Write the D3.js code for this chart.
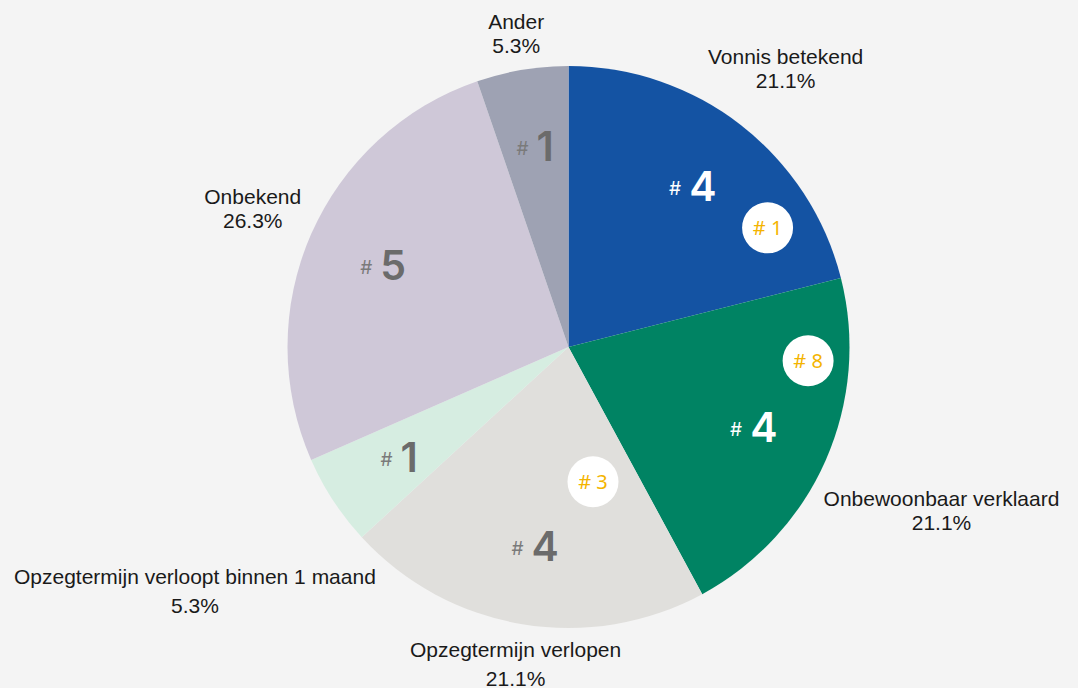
<!DOCTYPE html>
<html>
<head>
<meta charset="utf-8">
<style>
  html, body { margin: 0; padding: 0; background: #f4f4f4; }
  svg { display: block; }
</style>
</head>
<body>
<svg width="1078" height="688"></svg>
<script src="https://d3js.org/d3.v7.min.js"></script>
<script>

var categories = [
  "Vonnis betekend",
  "Onbewoonbaar verklaard",
  "Opzegtermijn verlopen",
  "Opzegtermijn verloopt binnen 1 maand",
  "Onbekend",
  "Ander"
];
var counts = [4, 4, 4, 1, 5, 1];
var colors = ["#1453a3", "#008363", "#e0dfdc", "#d6ede1", "#cfc8d8", "#9ea2b3"];

// small white badges: which slice and the number shown
var badgeCats = ["Vonnis betekend", "Onbewoonbaar verklaard", "Opzegtermijn verlopen"];
var badgeValues = [1, 8, 3];

var svg = d3.select("svg"),
    width = +svg.attr("width"),
    height = +svg.attr("height"),
    cx = 568.5, cy = 347, radius = 281;

var g = svg.append("g").attr("transform", "translate(" + cx + "," + cy + ")");

var data = categories.map(function(c, i) { return {name: c, value: counts[i], color: colors[i]}; });
var total = d3.sum(counts);
var pct = d3.format(".1%");

var pie = d3.pie().sort(null).value(function(d) { return d.value; });
var arcs = pie(data);

var arc = d3.arc().innerRadius(0).outerRadius(radius);

g.selectAll("path.slice")
  .data(arcs)
  .enter().append("path")
    .attr("class", "slice")
    .attr("fill", function(d) { return d.data.color; })
    .attr("d", arc);

function mid(d) { return (d.startAngle + d.endAngle) / 2; }
function isDark(d) { return d.index < 2; }

// "# n" labels inside slices
var inner = g.selectAll("text.inner")
  .data(arcs)
  .enter().append("text")
    .attr("class", "inner")
    .attr("text-anchor", "middle")
    .attr("x", function(d) { return Math.sin(mid(d)) * radius * 0.72; })
    .attr("y", function(d) { return -Math.cos(mid(d)) * radius * 0.72 + 14; });

inner.append("tspan")
    .attr("dy", -6)
    .style("font-family", "Inter, 'Noto Sans', sans-serif")
    .style("font-size", "19px")
    .style("fill", function(d) { return isDark(d) ? "#ffffff" : "#7a7a7a"; })
    .text("#");

inner.append("tspan")
    .attr("dx", 8)
    .attr("dy", 6)
    .style("font-family", "Inter, 'Noto Sans', sans-serif")
    .style("font-size", "41px")
    .style("font-weight", 600)
    .style("fill", function(d) { return isDark(d) ? "#ffffff" : "#6b6b6b"; })
    .text(function(d) { return d.data.value; });

// outside labels: box pushed along the mid angle until it clears the pie
var labelR = radius + 10;
var outer = g.selectAll("g.outer")
  .data(arcs)
  .enter().append("g")
    .attr("class", "outer");

var lt = outer.append("text")
    .attr("text-anchor", "middle")
    .style("font-family", "'Liberation Sans', Arial, sans-serif")
    .style("font-size", "21px")
    .style("fill", "#1a1a1a");
lt.append("tspan").attr("x", 0).attr("y", 0).text(function(d) { return d.data.name; });
// second line sits below the ink of the first, so descenders push it down
lt.append("tspan").attr("x", 0)
    .attr("dy", function(d) { return /[gjpqy]/.test(d.data.name) ? 29 : 24; })
    .text(function(d) { return pct(d.data.value / total); });

outer.each(function(d) {
  var bb = this.getBBox();
  var a = mid(d), vx = Math.sin(a), vy = -Math.cos(a);
  var hw = bb.width / 2, hh = bb.height / 2;
  function dist(t) {
    var dx = Math.max(Math.abs(vx * t) - hw, 0),
        dy = Math.max(Math.abs(vy * t) - hh, 0);
    return Math.hypot(dx, dy);
  }
  var lo = 0, hi = 1200;
  for (var k = 0; k < 60; k++) {
    var m = (lo + hi) / 2;
    if (dist(m) < labelR) lo = m; else hi = m;
  }
  var tx = vx * lo - (bb.x + hw), ty = vy * lo - (bb.y + hh);
  d3.select(this).attr("transform", "translate(" + tx + "," + ty + ")");
});

// badge placement: angle (deg, clockwise from top) and distance from centre
var badgeAt = [[59.1, 232], [93.3, 240], [169.7, 137]];

var badges = g.selectAll("g.badge")
  .data(badgeCats.map(function(c, i) { return {name: c, value: badgeValues[i], at: badgeAt[i]}; }))
  .enter().append("g")
    .attr("class", "badge")
    .attr("transform", function(d) {
      var a = d.at[0] * Math.PI / 180;
      return "translate(" + (Math.sin(a) * d.at[1]) + "," + (-Math.cos(a) * d.at[1]) + ")";
    });

badges.append("circle")
    .attr("r", 25.5)
    .attr("fill", "#ffffff");

badges.append("text")
    .attr("text-anchor", "middle")
    .attr("dy", "0.36em")
    .style("font-family", "'Noto Sans', sans-serif")
    .style("font-size", "20px")
    .style("fill", "#f4b400")
    .text(function(d) { return "# " + d.value; });

</script>
</body>
</html>
